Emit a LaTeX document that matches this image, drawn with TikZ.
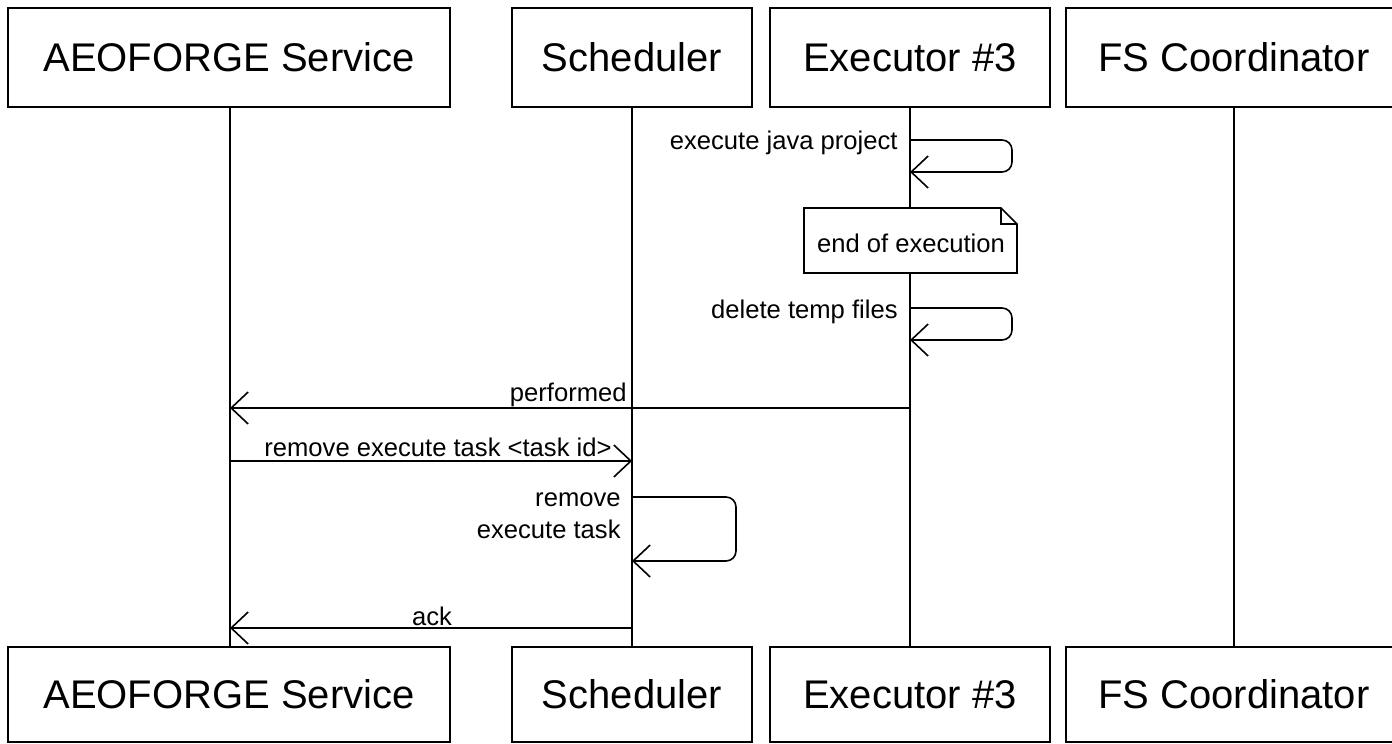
\documentclass[tikz,border=0pt]{standalone}
\usepackage{fontspec}
\setmainfont{Liberation Sans}
\usetikzlibrary{arrows.meta}
\begin{document}
\begin{tikzpicture}[x=0.5pt,y=-0.5pt,
  part/.style={draw,line width=0.8pt,minimum height=49.5pt,inner sep=0pt,
    font=\fontsize{20}{24}\selectfont},
  life/.style={line width=0.8pt},
  msg/.style={line width=0.8pt,-{Straight Barb[length=8.5pt,width=16pt,line width=0.8pt]}},
  selfmsg/.style={msg,rounded corners=5pt},
  lbl/.style={font=\fontsize{12.8}{16}\selectfont,inner sep=0pt},
  notebox/.style={line width=0.8pt,fill=white}]
\useasboundingbox (0,0) rectangle (1392,744);

% participants top
\node[part,minimum width=221pt] (A1) at (229,57.5) {AEOFORGE Service};
\node[part,minimum width=120pt] (S1) at (632,57.5) {Scheduler};
\node[part,minimum width=140pt] (E1) at (910,57.5) {Executor \#3};
\node[part,minimum width=168pt] (F1) at (1234,57.5) {FS Coordinator};
% participants bottom
\node[part,minimum width=221pt,minimum height=47.5pt] (A2) at (229,694.5) {AEOFORGE Service};
\node[part,minimum width=120pt,minimum height=47.5pt] (S2) at (632,694.5) {Scheduler};
\node[part,minimum width=140pt,minimum height=47.5pt] (E2) at (910,694.5) {Executor \#3};
\node[part,minimum width=168pt,minimum height=47.5pt] (F2) at (1234,694.5) {FS Coordinator};

% lifelines
\draw[life] (230,107) -- (230,647);
\draw[life] (S1.south) -- (S2.north);
\draw[life] (E1.south) -- (E2.north);
\draw[life] (F1.south) -- (F2.north);

% coordinates on lifelines
\coordinate (eA) at (910,140);
\coordinate (eB) at (910,172);
\coordinate (dA) at (910,308);
\coordinate (dB) at (910,340);
\coordinate (pE) at (910,408);
\coordinate (pA) at (230,408);
\coordinate (rA) at (230,461);
\coordinate (rS) at (632,461);
\coordinate (sA) at (632,497);
\coordinate (sB) at (632,561);
\coordinate (kS) at (632,628);
\coordinate (kA) at (230,628);

% execute java project
\draw[selfmsg] (eA) -- (1012,140) -- (1012,172) -- (eB);
\node[lbl,anchor=east] (l1) at (898,143) {execute java project};

% note
\path[notebox,draw] (804,208) -- (1001,208) -- (1017,224) -- (1017,273) -- (804,273) -- cycle;
\draw[line width=0.8pt] (1001,208) -- (1001,224) -- (1017,224);
\node[lbl] (n1) at (911,243) {end of execution};

% delete temp files
\draw[selfmsg] (dA) -- (1012,308) -- (1012,340) -- (dB);
\node[lbl,anchor=east] (l2) at (898,312) {delete temp files};

% performed
\draw[msg] (pE) -- (pA);
\node[lbl,anchor=east] (l3) at (627,395) {performed};

% remove execute task <task id>
\draw[msg] (rA) -- (rS);
\node[lbl,anchor=east] (l4) at (612,447) {remove execute task <task id>};

% self: remove execute task
\draw[selfmsg] (sA) -- (736,497) -- (736,561) -- (sB);
\node[lbl,anchor=east,align=right] (l5) at (621,516) {remove\\execute task};

% ack
\draw[msg] (kS) -- (kA);
\node[lbl] (l6) at (432,616) {ack};
\end{tikzpicture}
\end{document}
